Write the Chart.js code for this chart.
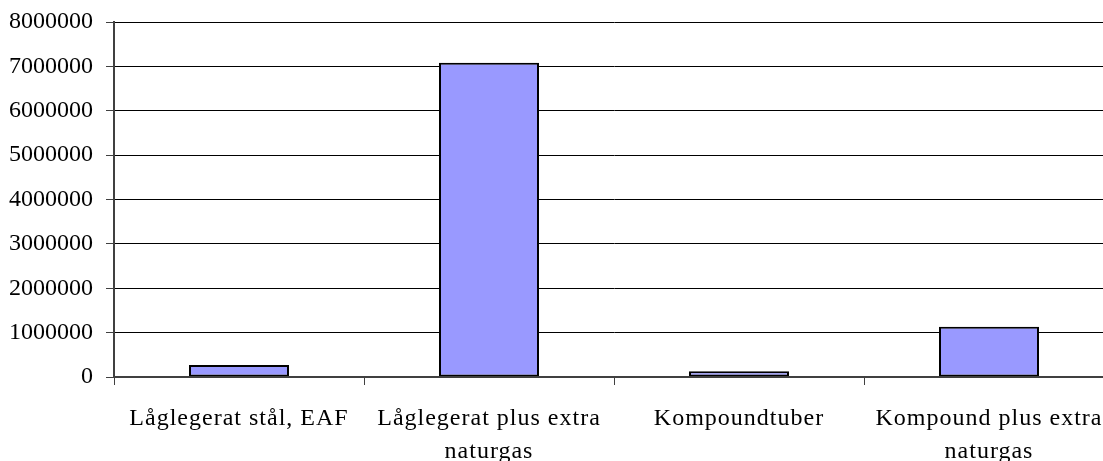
<!DOCTYPE html>
<html>
<head>
<meta charset="utf-8">
<script src="https://cdn.jsdelivr.net/npm/chart.js@4/dist/chart.umd.min.js"></script>
<style>
  html, body { margin: 0; padding: 0; background: #fff; overflow: hidden; }
  #wrap { width: 1120px; height: 461px; }
</style>
</head>
<body>
<div id="wrap"><canvas id="chart" width="1120" height="461"></canvas></div>
<script>
const categories = [
  "Låglegerat stål, EAF",
  ["Låglegerat plus extra", "naturgas"],
  "Kompoundtuber",
  ["Kompound plus extra", "naturgas"]
];
const values = [270000, 7080000, 130000, 1130000];
const yMin = 0, yMax = 8000000, yStep = 1000000;

const font = { family: "'Liberation Serif', 'Times New Roman', serif", size: 24 };

// x labels in the original are set a little wider than the y labels
const spacing = {
  id: "spacing",
  afterDatasetsDraw(chart) { chart.ctx.letterSpacing = "1px"; },
  afterDraw(chart) { chart.ctx.letterSpacing = "0px"; }
};

new Chart(document.getElementById("chart").getContext("2d"), {
  type: "bar",
  data: {
    labels: categories,
    datasets: [{
      data: values,
      backgroundColor: "#9999ff",
      borderColor: "#000",
      borderWidth: 2,
      borderSkipped: false,
      barPercentage: 0.4,
      categoryPercentage: 1.0
    }]
  },
  plugins: [spacing],
  options: {
    responsive: false,
    devicePixelRatio: 1,
    animation: false,
    layout: { padding: { top: 22, right: 6, left: 0, bottom: 0 } },
    plugins: { legend: { display: false }, tooltip: { enabled: false } },
    scales: {
      x: {
        offset: true,
        grid: { z: 1, offset: true, drawOnChartArea: false, drawTicks: true, tickLength: 8, color: "#404040", lineWidth: 1 },
        border: { z: 1, color: "#404040", width: 2 },
        ticks: { z: 1, color: "#000", font: { ...font, lineHeight: 1.38 }, padding: 17, maxRotation: 0, autoSkip: false },
        afterFit: s => { s.height = 84; }
      },
      y: {
        min: yMin, max: yMax,
        grid: { color: "#000", lineWidth: 1, tickLength: 8, tickColor: "#404040" },
        border: { color: "#404040", width: 2 },
        ticks: { stepSize: yStep, color: "#000", font: { ...font, lineHeight: 0.4 }, padding: 13, callback: v => String(v) },
        afterFit: s => { s.width = 114; }
      }
    }
  }
});
</script>
</body>
</html>
